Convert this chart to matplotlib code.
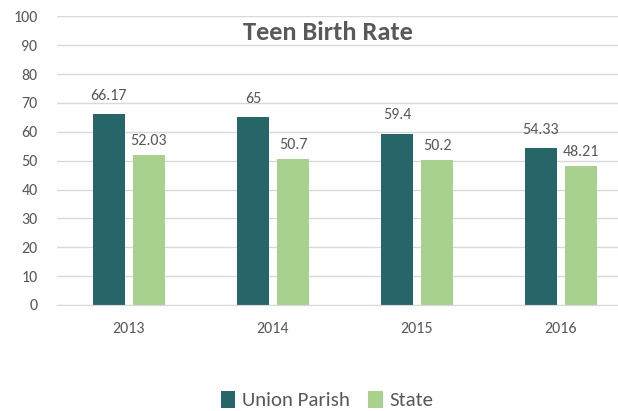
import numpy as np
import matplotlib.pyplot as plt

plt.rcParams['font.family'] = ['Carlito', 'Lato', 'DejaVu Sans']

# Data
years = ['2013', '2014', '2015', '2016']
union_parish = [66.17, 65, 59.4, 54.33]
state = [52.03, 50.7, 50.2, 48.21]
union_labels = ['66.17', '65', '59.4', '54.33']
state_labels = ['52.03', '50.7', '50.2', '48.21']

dark = '#266669'
light = '#A9D18E'
txt = '#595959'

fig = plt.figure(figsize=(6.18, 4.11), dpi=100)
ax = fig.add_axes([57 / 618, 1 - 305 / 411, 576 / 618, 288.6 / 411])

x = np.arange(len(years))
w = 0.222
off = 0.139
b1 = ax.bar(x - off, union_parish, w, color=dark, label='Union Parish')
b2 = ax.bar(x + off, state, w, color=light, label='State')

for rect, lab in zip(b1, union_labels):
    ax.annotate(lab, (rect.get_x() + rect.get_width() / 2, rect.get_height()),
                xytext=(0, 8), textcoords='offset points', ha='center', va='bottom',
                fontsize=11.5, color=txt)
for rect, lab in zip(b2, state_labels):
    ax.annotate(lab, (rect.get_x() + rect.get_width() / 2, rect.get_height()),
                xytext=(0, 5), textcoords='offset points', ha='center', va='bottom',
                fontsize=11.5, color=txt)

ax.set_xlim(-0.5, 3.5)
ax.set_ylim(0, 100)
ax.set_yticks(range(0, 101, 10))
ax.set_xticks(x)
ax.set_xticklabels(years)
ax.tick_params(axis='both', length=0, labelsize=11.5, colors=txt)
ax.tick_params(axis='x', pad=12)
ax.tick_params(axis='y', pad=14)
ax.grid(axis='y', color='#D9D9D9', linewidth=1)
ax.set_axisbelow(True)
for s in ['top', 'right', 'left']:
    ax.spines[s].set_visible(False)
ax.spines['bottom'].set_color('#D9D9D9')

fig.text(328 / 618, 1 - 32 / 411, 'Teen Birth Rate', ha='center', va='center',
         fontsize=19, fontweight='bold', color=txt)

fig.legend(loc='center', bbox_to_anchor=(327 / 618, 1 - 400 / 411), ncol=2,
           frameon=False, fontsize=15, labelcolor=txt, handlelength=0.7,
           handleheight=0.9, handletextpad=0.3, columnspacing=0.9)

fig.savefig('out.png', dpi=100)
